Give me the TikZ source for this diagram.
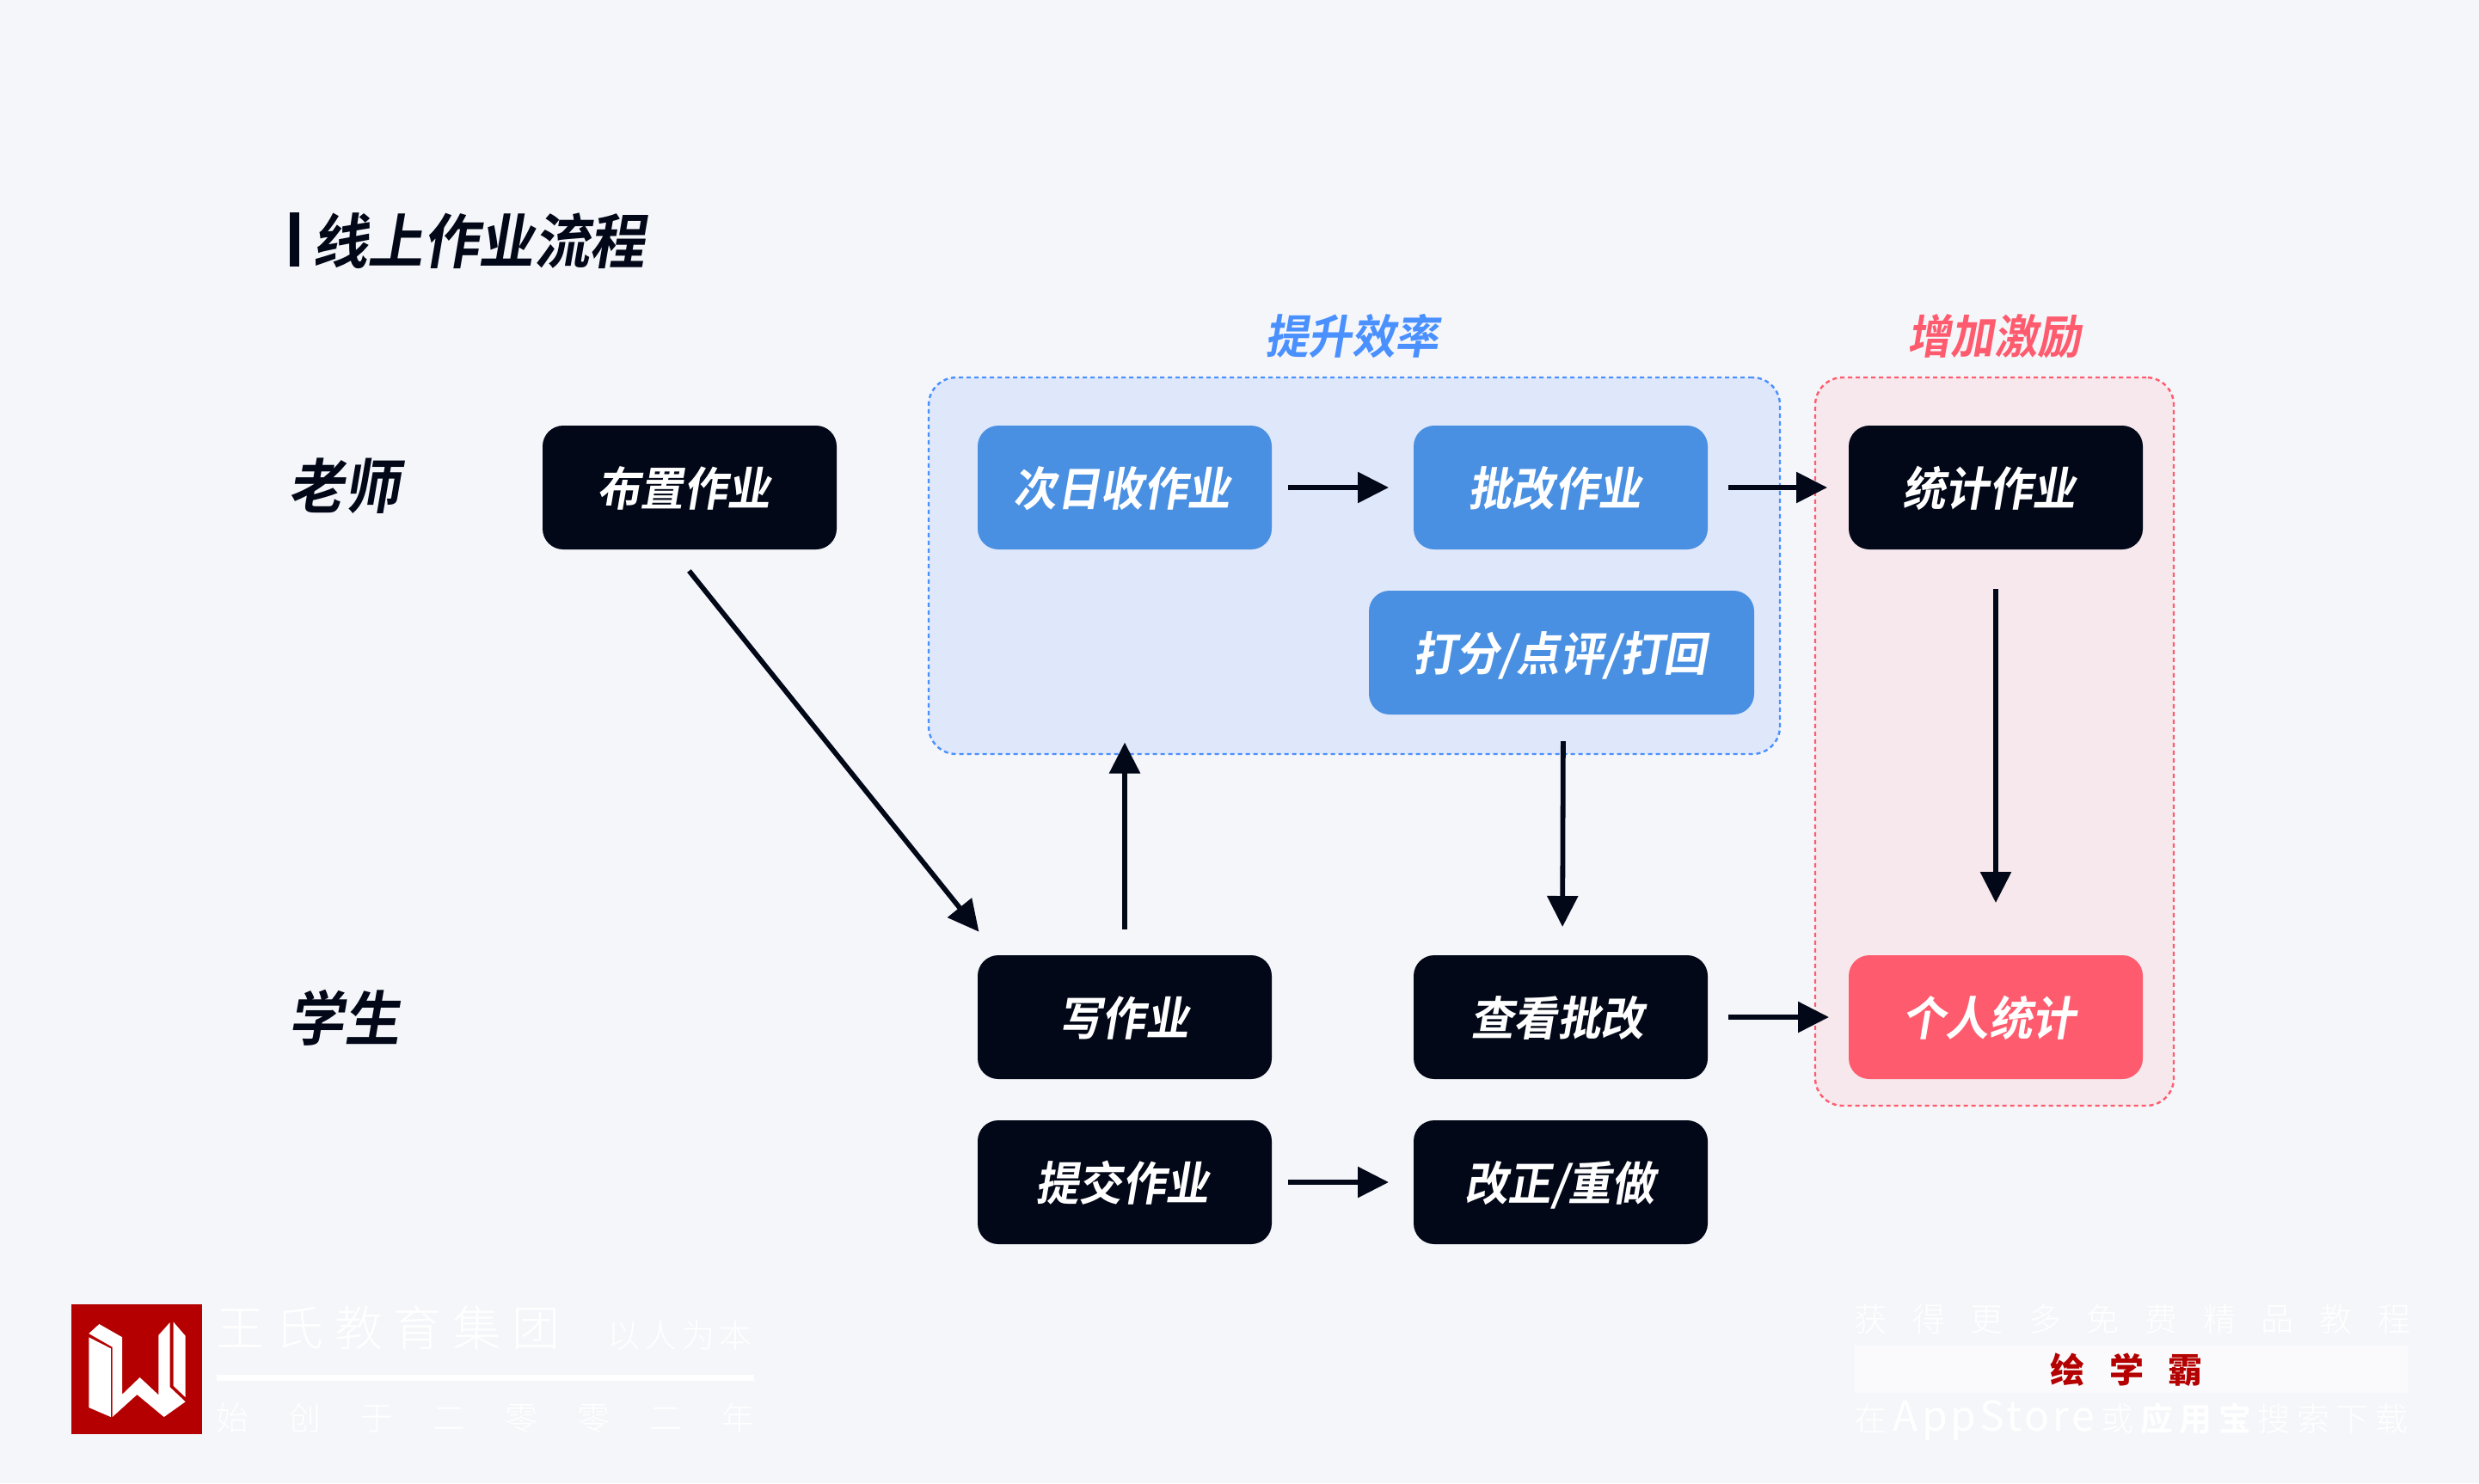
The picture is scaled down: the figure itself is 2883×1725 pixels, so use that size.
\documentclass[tikz,border=0pt]{standalone}
\usepackage{fontspec}
\usetikzlibrary{arrows.meta}
\newfontfamily\zhbold[FakeSlant=0.17,FakeStretch=0.935]{Noto Sans CJK SC Bold}
\newfontfamily\zhthin{Noto Sans CJK SC Light}
\newfontfamily\zhplain{Noto Sans CJK SC}
\newfontfamily\zhstrong{Noto Sans CJK SC Bold}
\newfontfamily\zhheavy{Noto Sans CJK SC Black}
\definecolor{pagebg}{HTML}{F5F6FA}
\definecolor{inkdark}{HTML}{020817}
\definecolor{taskblue}{HTML}{4A90E2}
\definecolor{lineblue}{HTML}{4A90FF}
\definecolor{fillblue}{HTML}{DFE7FA}
\definecolor{linered}{HTML}{FF5B6E}
\definecolor{fillred}{HTML}{F6E8EC}
\definecolor{brandred}{HTML}{B40000}
\tikzset{
  nudge/.style={execute at end node={\kern #1}},
  taskbox/.style={rounded corners=12pt,minimum width=171pt,minimum height=72pt,inner sep=0pt,outer sep=0pt,fill=inkdark,text=white,text height=23.2pt,text depth=2.2pt,font=\zhbold\fontsize{27}{27}\selectfont},
  bluetask/.style={taskbox,fill=taskblue},
  redtask/.style={taskbox,fill=linered},
  regionbox/.style={rounded corners=16pt,inner sep=0pt,outer sep=0pt,line width=1.2pt,dash pattern=on 2.5pt off 2pt},
  rolelabel/.style={text=inkdark,inner sep=0pt,font=\zhbold\fontsize{34.5}{34.5}\selectfont},
  regionlabel/.style={inner sep=0pt,font=\zhbold\fontsize{27}{27}\selectfont},
  flow/.style={-{Triangle[length=18pt,width=17.5pt]},line width=2.9pt,draw=inkdark},
  footnote/.style={inner sep=0pt,anchor=west,text=white},
}
\begin{document}
\begin{tikzpicture}[x=0.5pt,y=-0.5pt]
\fill [pagebg] (0,0) rectangle (2883,1725);
\useasboundingbox (0,0) rectangle (2883,1725);
\fill [inkdark] (337,247) rectangle (348,310);
\node [rolelabel,anchor=west] (title) at (363,280) {线上作业流程};
\node [rolelabel] (teacher) at (400,565) {老师};
\node [rolelabel] (student) at (400,1184) {学生};
\node [regionbox,draw=lineblue,fill=fillblue,minimum width=495pt,minimum height=219pt] (effect) at (1575,658) {};
\node [regionbox,draw=linered,fill=fillred,minimum width=208.5pt,minimum height=423.5pt] (reward) at (2319.5,862.5) {};
\node [regionlabel,text=lineblue] (effectlabel) at (1572,391) {提升效率};
\node [regionlabel,text=linered] (rewardlabel) at (2319,391) {增加激励};
\node [taskbox,nudge=7pt] (assign) at (802,567) {布置作业};
\node [bluetask,nudge=3pt] (collect) at (1308,567) {次日收作业};
\node [bluetask,nudge=7pt] (correct) at (1815,567) {批改作业};
\node [bluetask,minimum width=224pt,nudge=2pt] (grade) at (1816,759) {打分/点评/打回};
\node [taskbox,nudge=8pt] (count) at (2321,567) {统计作业};
\node [taskbox,nudge=1pt] (write) at (1308,1183) {写作业};
\node [taskbox,nudge=4pt] (review) at (1815,1183) {查看批改};
\node [redtask,nudge=8pt] (personal) at (2321,1183) {个人统计};
\node [taskbox,nudge=3pt] (submit) at (1308,1375) {提交作业};
\node [taskbox,nudge=1pt] (redo) at (1815,1375) {改正/重做};
\draw [flow,shorten <=16pt,shorten >=17.5pt] (assign.-106.5) -- (write.154.8);
\draw [flow,shorten <=15pt,shorten >=-6.75pt] (write.north) -- (write.north |- effect.south);
\draw [flow,shorten <=9.5pt,shorten >=14.5pt] (collect.east) -- (correct.west);
\draw [flow,shorten <=12pt,shorten >=12.5pt] (correct.east) -- (count.west);
\draw [flow,shorten <=15.5pt,shorten >=16.5pt] ([xshift=1pt]grade.south) -- ([xshift=1pt]review.north);
\draw [flow,shorten <=23pt,shorten >=30.5pt] (count.south) -- (personal.north);
\draw [flow,shorten <=12pt,shorten >=11.5pt] (review.east) -- (personal.west);
\draw [flow,shorten <=9.5pt,shorten >=14.5pt] (submit.east) -- (redo.west);
\fill [brandred] (83,1517) rectangle (235,1668);
\fill [white] (103.3,1551) -- (115.4,1540) -- (142.2,1555.3) -- (142.2,1621.7) -- (162.6,1602) -- (184.3,1622.3) -- (184.3,1553) -- (197.7,1538) -- (197.7,1613.3) -- (215.6,1630.3) -- (190.7,1648) -- (159.4,1622) -- (130.7,1648) -- (130.7,1566.7) -- cycle;
\fill [white] (103.3,1555.3) -- (128.8,1568.3) -- (128.8,1648) -- (103.3,1637) -- cycle;
\fill [white] (201.5,1537.3) -- (215.6,1553.7) -- (215.6,1625) -- (201.5,1611.7) -- cycle;
\node [footnote,font=\zhthin\fontsize{28}{28}\selectfont\addfontfeature{LetterSpace=23}] (brand) at (251,1544) {王氏教育集团};
\node [footnote,font=\zhthin\fontsize{19}{19}\selectfont\addfontfeature{LetterSpace=14}] (motto) at (706,1553) {以人为本};
\fill [white] (252,1599) rectangle (877,1606);
\node [footnote,font=\zhthin\fontsize{19}{19}\selectfont\addfontfeature{LetterSpace=121}] (founded) at (251,1649) {始创于二零零二年};
\node [footnote,font=\zhthin\fontsize{19}{19}\selectfont\addfontfeature{LetterSpace=78}] (promo) at (2156,1534) {获得更多免费精品教程};
\fill [white,fill opacity=0.55] (2156.5,1565) rectangle (2801,1620);
\node [footnote,text=brandred,font=\zhheavy\fontsize{20}{20}\selectfont\addfontfeature{LetterSpace=72}] (appname) at (2384,1593) {绘学霸};
\node [footnote,font=\zhthin\fontsize{19}{19}\selectfont] (store) at (2156,1652) {\makebox[322pt][s]{在\hfill{\zhplain\fontsize{24}{24}\selectfont\addfontfeature{LetterSpace=8}AppStore}\hfill 或\hfill{\zhstrong 应}\hfill{\zhstrong 用}\hfill{\zhstrong 宝}\hfill 搜\hfill 索\hfill 下\hfill 载}};
\end{tikzpicture}
\end{document}
